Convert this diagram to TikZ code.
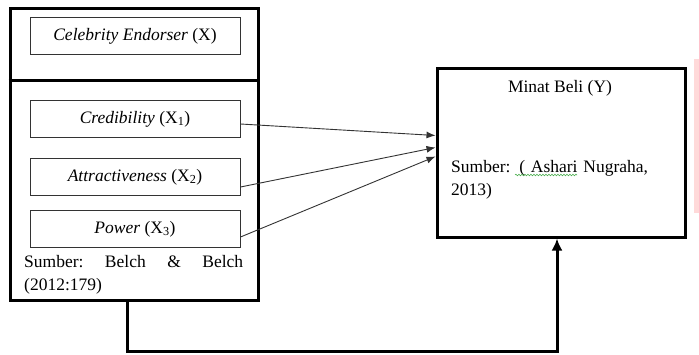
\documentclass[tikz,border=0pt]{standalone}
\usepackage{fontspec}
\setmainfont{Liberation Serif}
\usepackage{tikz}
\usetikzlibrary{shapes,arrows,arrows.meta,decorations.pathmorphing}
\usepackage{xcolor}
\definecolor{garis}{HTML}{333333}
\definecolor{merahmuda}{HTML}{FFD9D9}
\definecolor{hijaueja}{HTML}{4CAF50}

\begin{document}
\begin{tikzpicture}[x=1pt, y=-1pt,
					font=\fontsize{17.5}{23}\selectfont,
					tebal/.style={draw, line width=3pt, rectangle, inner sep=0pt},
					kotak/.style={draw=garis, line width=1pt, rectangle, minimum width=210pt, minimum height=37pt, inner sep=0pt},
					panah/.style={draw=garis, line width=0.9pt, -{Latex[length=9pt,width=7pt]}}]
    \useasboundingbox (0,0) rectangle (699,354);
    % Place nodes
    \node [tebal, minimum width=248pt, minimum height=292pt] (grp) at (134,154){};
    \coordinate (sekat) at (0,80);
    \node [kotak] (X) at (135,36){\textit{Celebrity Endorser} (X)};
    \node [kotak] (X1) at (135,119){\textit{Credibility} (X\textsubscript{1})};
    \node [kotak] (X2) at (135,177){\textit{Attractiveness} (X\textsubscript{2})};
    \node [kotak] (X3) at (135,229){\textit{Power} (X\textsubscript{3})};
    \node [anchor=base west, align=left, text width=219pt, inner sep=0pt] (sbX) at (24,267){Sumber:\hfill Belch\hfill \&\hfill Belch\\(2012:179)};
    \node [tebal, minimum width=248pt, minimum height=169pt] (Y) at (561,152.5){};
    \node [anchor=base, inner sep=0pt] (judulY) at (560,92){Minat Beli (Y)};
    \node [anchor=base west, align=left, text width=225pt, inner sep=0pt] (sbY) at (451,172){Sumber: ( Ashari Nugraha,\\2013)};
    % Draw edges
    \draw [line width=3pt] (grp.west |- sekat) -- (grp.east |- sekat);
    \draw [panah] ([yshift=-5pt]X1.east) -- ([yshift=17pt]Y.west);
    \draw [panah] ([yshift=-10pt]X2.east) -- ([yshift=5pt]Y.west);
    \draw [panah] ([yshift=-8pt]X3.east) -- ([yshift=-4pt]Y.west);
    \draw [line width=3pt, -{Latex[length=12pt,width=11pt]}] ([xshift=-7pt]grp.south) -- ++(0,50) -| ([xshift=-4pt]Y.south);
    % spell check & margin
    \draw [hijaueja, line width=0.6pt, decorate, decoration={snake, amplitude=0.8pt, segment length=3pt}] (515,175) -- (577,175);
    \fill [merahmuda] (694,59) rectangle (699,213);
\end{tikzpicture}
\end{document}
